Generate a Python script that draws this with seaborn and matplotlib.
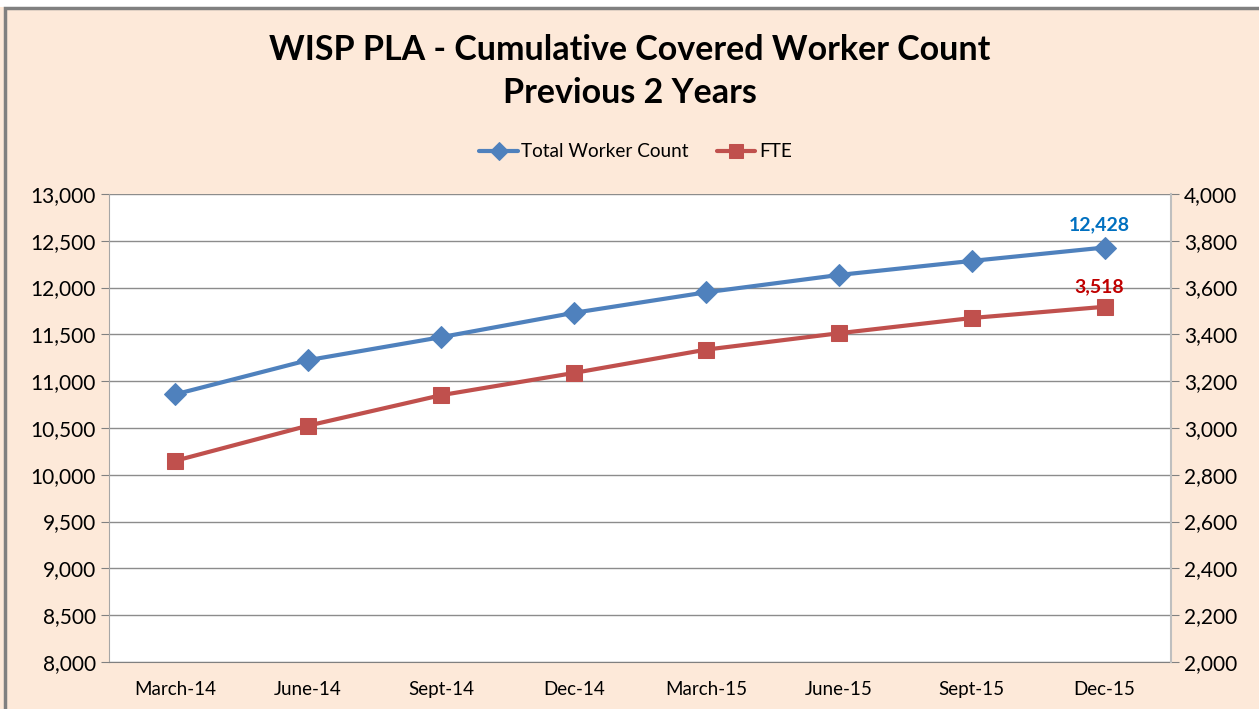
import seaborn as sns
import pandas as pd
import matplotlib.pyplot as plt
from matplotlib.patches import Rectangle
from matplotlib.ticker import FuncFormatter, MultipleLocator

# chart values
quarters = ["March-14", "June-14", "Sept-14", "Dec-14",
            "March-15", "June-15", "Sept-15", "Dec-15"]
total_workers = [10860, 11225, 11470, 11730, 11950, 12135, 12285, 12428]
fte = [2860, 3010, 3140, 3235, 3335, 3405, 3470, 3518]

df = pd.DataFrame({"pos": range(len(quarters)), "quarter": quarters,
                   "total": total_workers, "fte": fte})

sns.set_style("white")
plt.rcParams['font.family'] = ['Lato', 'DejaVu Sans']
plt.rcParams['text.color'] = 'black'
plt.rcParams['xtick.color'] = 'black'
plt.rcParams['ytick.color'] = 'black'

bg = "#FDE9D9"
blue = "#4F81BD"
red = "#C0504D"

fig = plt.figure(figsize=(12.59, 7.09), dpi=100, facecolor=bg)
fig.patches.append(Rectangle((0, 0.99), 1, 0.02, transform=fig.transFigure,
                             facecolor="white", edgecolor="none"))
fig.patches.append(Rectangle((0.004, -0.01), 1.2, 0.999, transform=fig.transFigure,
                             fill=False, edgecolor="#808080", linewidth=2.5))
ax = fig.add_axes([0.0866, 0.0663, 0.8435, 0.6601])
ax2 = ax.twinx()

sns.lineplot(data=df, x="pos", y="total", ax=ax, color=blue, linewidth=3,
             marker="D", markersize=11, markeredgecolor=blue, label="Total Worker Count",
             legend=False)
sns.lineplot(data=df, x="pos", y="fte", ax=ax2, color=red, linewidth=3,
             marker="s", markersize=12, markeredgecolor=red, label="FTE",
             legend=False)

ax.set_xlim(-0.5, len(quarters) - 0.5)
ax.set_ylim(8000, 13000)
ax2.set_ylim(2000, 4000)
ax.yaxis.set_major_locator(MultipleLocator(500))
ax2.yaxis.set_major_locator(MultipleLocator(200))
fmt = FuncFormatter(lambda v, p: f"{int(v):,}")
ax.yaxis.set_major_formatter(fmt)
ax2.yaxis.set_major_formatter(fmt)

ax.set_xticks(range(len(quarters)))
ax.set_xticklabels(quarters, fontsize=13.5)
ax.set_xticks([i - 0.5 for i in range(len(quarters) + 1)], minor=True)
ax.tick_params(axis="x", which="major", length=0, pad=14)
ax.tick_params(axis="x", which="minor", length=6, color="#808080", direction="out")
ax.tick_params(axis="y", length=6, color="#808080", direction="out", labelsize=15, left=True)
ax2.tick_params(axis="y", length=6, color="#808080", direction="out", labelsize=15, right=True)
ax.set_xlabel("")
ax.set_ylabel("")
ax2.set_ylabel("")

ax.grid(axis="y", color="#8c8c8c", linewidth=1)
ax.set_axisbelow(True)
ax.set_facecolor("white")
for a in (ax, ax2):
    for s in a.spines.values():
        s.set_visible(False)
ax.spines["left"].set_visible(True)
ax.spines["left"].set_color("#a6a6a6")
ax.spines["bottom"].set_visible(True)
ax.spines["bottom"].set_color("#808080")
ax2.spines["right"].set_visible(True)
ax2.spines["right"].set_color("#bfbfbf")
ax2.spines["right"].set_linewidth(1.5)

# data labels on last points
ax.annotate(f"{total_workers[-1]:,}", (len(quarters) - 1, total_workers[-1]),
            xytext=(-4, 10), textcoords="offset points", ha="center", va="bottom",
            color="#0070C0", fontsize=14, fontweight="bold")
ax2.annotate(f"{fte[-1]:,}", (len(quarters) - 1, fte[-1]),
             xytext=(-4, 8), textcoords="offset points", ha="center", va="bottom",
             color="#C00000", fontsize=14, fontweight="bold")

fig.text(0.5, 0.899, "WISP PLA - Cumulative Covered Worker Count\nPrevious 2 Years",
         ha="center", va="center", fontsize=24.5, fontweight="bold", linespacing=1.4)

h1, l1 = ax.get_legend_handles_labels()
h2, l2 = ax2.get_legend_handles_labels()
fig.legend(h1 + h2, l1 + l2, loc="center", bbox_to_anchor=(0.505, 0.786), ncol=2,
           frameon=False, fontsize=13.7, handlelength=2.0, columnspacing=1.5,
           handletextpad=0.2, markerscale=0.8)

plt.savefig("out.png", dpi=100, facecolor=bg)
